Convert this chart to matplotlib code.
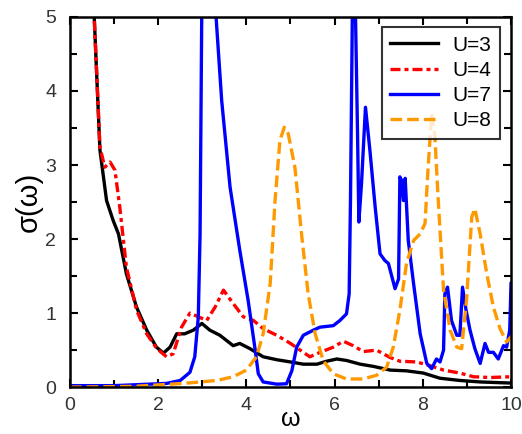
import matplotlib.pyplot as plt
import numpy as np

# U=3, black solid
w3 = [0.50, 0.55, 0.68, 0.83, 0.98, 1.10, 1.28, 1.51, 1.74, 1.96, 2.12, 2.27, 2.42, 2.60, 2.80,
      2.99, 3.17, 3.40, 3.70, 3.85, 4.08, 4.38, 4.69, 5.00, 5.29, 5.60, 5.82, 6.05, 6.27,
      6.58, 6.88, 7.26, 7.63, 8.01, 8.39, 8.84, 9.30, 9.75, 10.0]
s3 = [6.5, 5.0, 3.2, 2.52, 2.25, 2.07, 1.53, 1.08, 0.77, 0.54, 0.46, 0.54, 0.72, 0.72, 0.77,
      0.86, 0.77, 0.70, 0.56, 0.59, 0.52, 0.41, 0.37, 0.34, 0.31, 0.31, 0.35, 0.38, 0.36,
      0.31, 0.28, 0.23, 0.22, 0.19, 0.12, 0.09, 0.07, 0.06, 0.055]

# U=4, red dash-dot
w4 = [0.50, 0.55, 0.68, 0.79, 0.91, 1.02, 1.13, 1.28, 1.51, 1.74, 1.97, 2.19, 2.34, 2.53,
      2.72, 2.91, 3.10, 3.29, 3.48, 3.70, 3.93, 4.16, 4.38, 4.69, 5.00, 5.29, 5.44, 5.67,
      5.97, 6.20, 6.42, 6.65, 6.95, 7.26, 7.48, 7.86, 8.16, 8.47, 8.84, 9.15, 9.52, 10.0]
s4 = [6.5, 5.0, 3.24, 2.97, 3.04, 2.93, 2.43, 1.62, 1.04, 0.72, 0.52, 0.41, 0.45, 0.81,
      1.0, 0.95, 0.90, 1.08, 1.31, 1.13, 0.95, 0.90, 0.79, 0.70, 0.59, 0.47, 0.41, 0.47,
      0.54, 0.62, 0.56, 0.48, 0.50, 0.40, 0.35, 0.34, 0.29, 0.23, 0.19, 0.14, 0.13, 0.14]

# U=7, blue solid
w7 = [0.0, 1.0, 2.19, 2.50, 2.72, 2.83, 2.91, 2.95, 2.99, 3.05, 3.20, 3.29, 3.44, 3.63,
      3.85, 4.04, 4.20, 4.27, 4.38, 4.69, 4.91, 5.03, 5.14, 5.29, 5.52, 5.67, 5.97, 6.12,
      6.27, 6.33, 6.36, 6.41, 6.43, 6.46, 6.52, 6.55, 6.61, 6.70, 6.80, 6.92, 7.03, 7.14,
      7.22, 7.37, 7.45, 7.48, 7.52, 7.56, 7.60, 7.67, 7.79, 7.94, 8.09, 8.20, 8.31, 8.39,
      8.47, 8.50, 8.56, 8.65, 8.77, 8.84, 8.90, 8.98, 9.07, 9.18, 9.30, 9.41, 9.49, 9.60,
      9.71, 9.83, 9.90, 9.97, 10.0]
s7 = [0.02, 0.02, 0.05, 0.09, 0.20, 0.41, 0.95, 2.07, 5.2, 7.0, 7.0, 5.2, 3.87, 2.70,
      1.85, 1.17, 0.50, 0.18, 0.07, 0.04, 0.045, 0.22, 0.54, 0.70, 0.77, 0.81, 0.83, 0.90,
      0.99, 1.26, 2.52, 5.5, 7.0, 5.5, 3.42, 2.23, 2.75, 3.78, 3.20, 2.43, 1.80, 1.71,
      1.67, 1.33, 1.46, 2.84, 2.79, 2.52, 2.82, 1.98, 1.40, 0.72, 0.32, 0.25, 0.38, 0.34,
      0.50, 1.26, 1.35, 0.90, 0.70, 0.70, 1.35, 1.04, 0.77, 0.52, 0.32, 0.59, 0.47, 0.47,
      0.38, 0.56, 0.54, 0.77, 1.40]

# U=8, orange dashed
w8 = [0.0, 1.44, 2.57, 3.33, 3.70, 4.00, 4.23, 4.38, 4.54, 4.65, 4.76, 4.86, 4.95, 5.10,
      5.25, 5.40, 5.56, 5.74, 5.97, 6.27, 6.65, 6.95, 7.18, 7.33, 7.48, 7.63, 7.79, 7.94,
      8.05, 8.12, 8.20, 8.27, 8.35, 8.47, 8.62, 8.77, 8.88, 8.99, 9.11, 9.18, 9.30, 9.45,
      9.60, 9.75, 9.90, 10.0]
s8 = [0.0, 0.01, 0.05, 0.09, 0.14, 0.23, 0.41, 0.72, 1.40, 2.52, 3.33, 3.51, 3.42, 2.97,
      2.07, 1.26, 0.72, 0.36, 0.18, 0.11, 0.11, 0.16, 0.27, 0.54, 1.04, 1.67, 1.98, 2.07,
      2.21, 2.97, 3.69, 3.42, 2.52, 1.31, 0.77, 0.54, 0.52, 1.17, 2.30, 2.41, 2.07, 1.53,
      1.08, 0.79, 0.61, 0.68]

plt.rcParams['font.family'] = ['Liberation Sans', 'DejaVu Sans']

fig = plt.figure(figsize=(5.22, 4.34), dpi=100)
ax = fig.add_axes([0.134, 0.108, 0.845, 0.853])

lw = 2.4
ax.plot(w3, s3, color='black', lw=lw, label='U=3')
ax.plot(w4, s4, color='#ff0000', lw=lw, dashes=(3, 1.2, 1.2, 1.2), label='U=4')
ax.plot(w7, s7, color='#0000ff', lw=lw, label='U=7')
ax.plot(w8, s8, color='#ff9900', lw=lw, dashes=(3.5, 1.5), label='U=8')

ax.set_xlim(0, 10)
ax.set_ylim(0, 5)
ax.set_xticks([0, 2, 4, 6, 8, 10])
ax.set_xticks(np.arange(1, 10, 2), minor=True)
ax.set_yticks([0, 1, 2, 3, 4, 5])
ax.set_yticks(np.arange(0.5, 5, 1), minor=True)
ax.tick_params(which='both', direction='in', top=True, right=True, width=1.5,
               labelsize=14, labelcolor='#333333')
ax.tick_params(axis='x', pad=7)
ax.tick_params(axis='y', pad=10)
ax.tick_params(which='major', length=6)
ax.tick_params(which='minor', length=5)
for sp in ax.spines.values():
    sp.set_linewidth(1.8)

ax.set_xlabel('ω', fontsize=18, labelpad=-5)
ax.set_ylabel('σ(ω)', fontsize=21, labelpad=2)

leg = ax.legend(loc='upper right', fontsize=15, frameon=True, fancybox=False,
                handlelength=2.3, handletextpad=0.7, borderaxespad=0.5,
                labelspacing=0.3, bbox_to_anchor=(0.998, 1.0))
leg.get_frame().set_edgecolor('black')
leg.get_frame().set_linewidth(1.5)

fig.savefig('out.png', dpi=100)
